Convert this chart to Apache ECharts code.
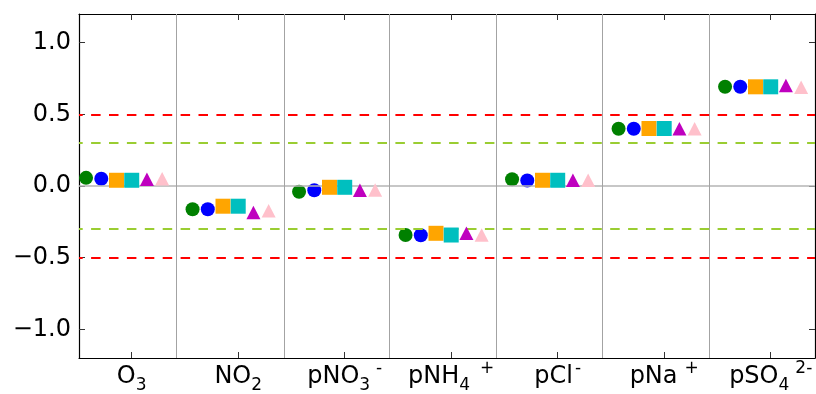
<!DOCTYPE html>
<html><head><meta charset="utf-8">
<script src="https://cdn.jsdelivr.net/npm/echarts@6/dist/echarts.min.js"></script>
<style>html,body{margin:0;padding:0;background:#fff}#c{width:816px;height:394px}</style>
</head><body><div id="c"></div>
<script>
// category labels: base text, subscript, superscript
const labelBase = ['O', 'NO', 'pNO', 'pNH', 'pCl', 'pNa', 'pSO'];
const labelSub  = ['3', '2', '3', '4', '', '', '4'];
const labelSup  = ['', '', '-', '+', '-', '+', '2-'];
const yTickValues = [-1.0, -0.5, 0.0, 0.5, 1.0];
const redLevels = [0.5, -0.5];
const greenLevels = [0.3, -0.3];

// six series, one value per category
const greenCircle  = [0.057, -0.162, -0.040, -0.342, 0.047, 0.399, 0.692];
const blueCircle   = [0.051, -0.162, -0.030, -0.344, 0.038, 0.399, 0.692];
const orangeSquare = [0.040, -0.141, -0.009, -0.330, 0.040, 0.401, 0.692];
const cyanSquare   = [0.040, -0.141, -0.009, -0.342, 0.040, 0.401, 0.692];
const purpleTri    = [0.047, -0.185, -0.030, -0.330, 0.040, 0.399, 0.702];
const pinkTri      = [0.050, -0.173, -0.028, -0.342, 0.040, 0.399, 0.689];

const seriesValues = [greenCircle, blueCircle, orangeSquare, cyanSquare, purpleTri, pinkTri];
const seriesColors = ['#008000', '#0000ff', '#ffa500', '#00bfbf', '#bf00bf', '#ffc0cb'];
const seriesSymbols = ['circle', 'circle', 'rect', 'rect', 'triangle', 'triangle'];
const seriesSizes = [14, 14, 15, 15, [14, 13.5], [14, 13.5]];

const nCat = labelBase.length;
const catTicks = labelBase.map((_, i) => i);
const FONT = 'DejaVu Sans';

// per-label superscript gap and lift (pixels)
const supGap  = [0, 0, 6, 10, 2, 7, 6];
const supLift = [0, 0, 14, 6, 16, 7.5, 7];

const rich = {
  m: { fontFamily: FONT, fontSize: 24, color: '#000', lineHeight: 34, verticalAlign: 'middle' },
  s: { fontFamily: FONT, fontSize: 17, color: '#000', lineHeight: 17, verticalAlign: 'bottom' }
};
for (let i = 0; i < nCat; i++) {
  rich['p' + i] = {
    fontFamily: FONT, fontSize: 17, color: '#000',
    lineHeight: Math.max(4, 2 * (19.4 - supLift[i])),
    verticalAlign: 'top', padding: [0, 0, 0, supGap[i]]
  };
}

function catLabel(v) {
  const i = Math.round(v);
  if (i < 0 || i >= nCat) return '';
  let s = '{m|' + labelBase[i] + '}';
  if (labelSub[i]) s += '{s|' + labelSub[i] + '}';
  if (labelSup[i]) s += '{p' + i + '|' + labelSup[i] + '}';
  return s;
}

const XMIN = -0.495, XMAX = 6.416;
const tickStyle = { color: '#333', width: 1 };
const frameLine = { show: true, onZero: false, lineStyle: { color: '#000', width: 1.2 } };

const series = [];
// background gray lines (zero line, category separators)
const sepData = [];
for (let i = 0; i < nCat - 1; i++) {
  sepData.push({ xAxis: i + 0.425, lineStyle: { color: '#a3a3a3', width: 1, type: 'solid' } });
}
series.push({
  type: 'scatter', data: [], z: 1, silent: true,
  markLine: {
    silent: true, symbol: ['none', 'none'], label: { show: false }, animation: false,
    data: [{ yAxis: 0, lineStyle: { color: '#b5b5b5', width: 1.5, type: 'solid' } }].concat(sepData)
  }
});

seriesValues.forEach((vals, k) => {
  series.push({
    type: 'scatter',
    z: 3 + k,
    symbol: seriesSymbols[k],
    symbolSize: seriesSizes[k],
    itemStyle: { color: seriesColors[k], opacity: 1 },
    data: vals.map((v, i) => [i + (k - 3) / 7, v]),
    animation: false
  });
});

// dashed reference lines on top
const dashData = [];
redLevels.forEach(v => dashData.push({ yAxis: v, lineStyle: { color: '#ff0000', width: 2, type: [9.5, 8.4], dashOffset: 5.8 } }));
greenLevels.forEach(v => dashData.push({ yAxis: v, lineStyle: { color: '#9acd32', width: 2, type: [9.5, 8.4], dashOffset: 5.8 } }));
series.push({
  type: 'scatter', data: [], z: 20, silent: true,
  markLine: { silent: true, symbol: ['none', 'none'], label: { show: false }, animation: false, data: dashData }
});

const chart = echarts.init(document.getElementById('c'), null, { renderer: 'canvas' });
chart.setOption({
  animation: false,
  backgroundColor: '#fff',
  grid: { left: 79, right: 1, top: 14, bottom: 36, containLabel: false, outerBoundsMode: 'none' },
  xAxis: [
    {
      type: 'value', min: XMIN, max: XMAX, position: 'bottom',
      axisLine: frameLine,
      axisTick: { show: true, inside: true, length: 6, customValues: catTicks, lineStyle: tickStyle },
      axisLabel: { show: true, customValues: catTicks, formatter: catLabel, rich: rich, margin: 2 },
      splitLine: { show: false }
    },
    {
      type: 'value', min: XMIN, max: XMAX, position: 'top',
      axisLine: frameLine,
      axisTick: { show: true, inside: true, length: 6, customValues: catTicks, lineStyle: tickStyle },
      axisLabel: { show: false },
      splitLine: { show: false }
    }
  ],
  yAxis: [
    {
      type: 'value', min: -1.2, max: 1.2, position: 'left',
      axisLine: frameLine,
      axisTick: { show: true, inside: true, length: 6, customValues: yTickValues, lineStyle: tickStyle },
      axisLabel: {
        show: true, customValues: yTickValues, margin: 8,
        fontFamily: FONT, fontSize: 24, color: '#000',
        formatter: v => (v < 0 ? '\u2212' : '') + Math.abs(v).toFixed(1)
      },
      splitLine: { show: false }
    },
    {
      type: 'value', min: -1.2, max: 1.2, position: 'right',
      axisLine: frameLine,
      axisTick: { show: true, inside: true, length: 6, customValues: yTickValues, lineStyle: tickStyle },
      axisLabel: { show: false },
      splitLine: { show: false }
    }
  ],
  series: series
});
</script>
</body></html>
